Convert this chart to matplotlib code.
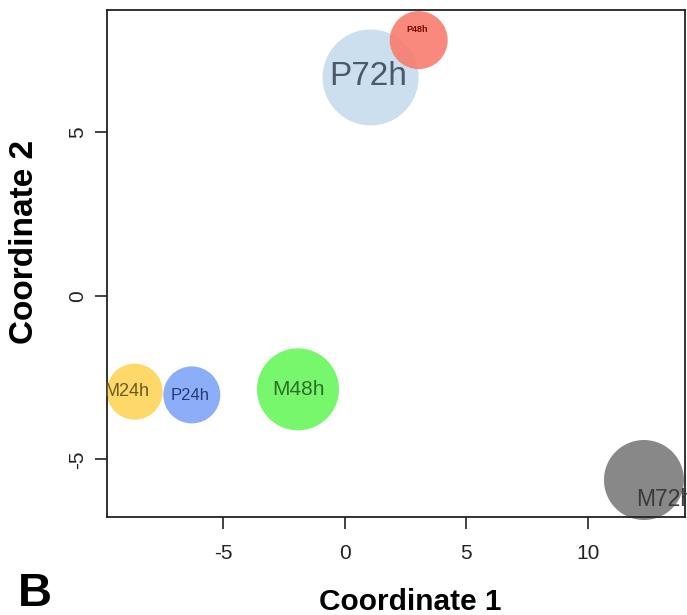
import matplotlib
matplotlib.use("Agg")
import matplotlib.pyplot as plt
from matplotlib import font_manager

# ---- data ----
labels = ["P48h", "P72h", "M24h", "P24h", "M48h", "M72h"]
coord1 = [3.04, 1.06, -8.65, -6.30, -1.93, 12.31]
coord2 = [7.81, 6.67, -2.93, -3.03, -2.86, -5.63]
bubble_radius_px = [29, 48, 28, 28.5, 41, 40]
label_x = [2.97, 0.95, -8.95, -6.37, -1.91, 13.15]
label_y = [8.12, 6.69, -2.93, -3.05, -2.85, -6.24]
label_size = [6.5, 24, 13, 12, 15, 16.5]
fill_colors = ["#FA7566", "#CCDFEF", "#FFD86A", "#8CAEF8", "#76F76C", "#888888"]
text_colors = ["#7A0A00", "#4A5A6A", "#6B5A20", "#253A78", "#2E6E2A", "#3A3A3A"]
x_ticks = [-5, 0, 5, 10]
y_ticks = [-5, 0, 5]

names = {f.name for f in font_manager.fontManager.ttflist}
narrow = "Liberation Sans Narrow" if "Liberation Sans Narrow" in names else "Liberation Sans"

W, H = 687, 615
fig = plt.figure(figsize=(W / 100, H / 100), dpi=100)
ax = fig.add_axes([107 / W, 1 - 517 / H, (685 - 107) / W, (517 - 10) / H])
ax.set_xlim(-9.79, 14.0)
ax.set_ylim(-6.76, 8.73)

# draw order: P72h under P48h
order = [1, 0, 2, 3, 4, 5]
for i in order:
    r_pt = bubble_radius_px[i] * 0.72
    ax.scatter([coord1[i]], [coord2[i]], s=(2 * r_pt) ** 2, color=fill_colors[i],
               alpha=0.85 if i == 0 else 1.0, edgecolors="none", zorder=2 + (i == 0),
               clip_on=False)
for i in range(len(labels)):
    ax.text(label_x[i], label_y[i], labels[i], ha="center", va="center",
            fontsize=label_size[i], color=text_colors[i],
            family="Liberation Sans", fontweight="bold" if i == 0 else "normal",
            zorder=5, clip_on=False)

ax.set_xticks(x_ticks)
ax.set_yticks(y_ticks)
ax.set_xticklabels([str(t) for t in x_ticks], family=narrow, fontsize=15, color="#222222")
ax.set_yticklabels([str(t) for t in y_ticks], family=narrow, fontsize=15, color="#222222",
                   rotation=90, va="center")
ax.tick_params(axis="both", direction="out", length=8.6, width=1.2, color="#222222")
ax.tick_params(axis="x", pad=11)
ax.tick_params(axis="y", pad=6)
for sp in ax.spines.values():
    sp.set_linewidth(1.3)
    sp.set_color("#222222")

fig.text(410 / W, 1 - 610 / H, "Coordinate 1", ha="center", va="baseline",
         family="Liberation Sans", fontweight="bold", fontsize=21.5)
fig.text(25 / W, 1 - 241.5 / H, "Coordinate 2", ha="center", va="center", rotation=90,
         family="Liberation Sans", fontweight="bold", fontsize=24)
fig.text(18 / W, 1 - 606 / H, "B", ha="left", va="baseline",
         family="Liberation Sans", fontweight="bold", fontsize=34)

fig.savefig("out.png", dpi=100)
